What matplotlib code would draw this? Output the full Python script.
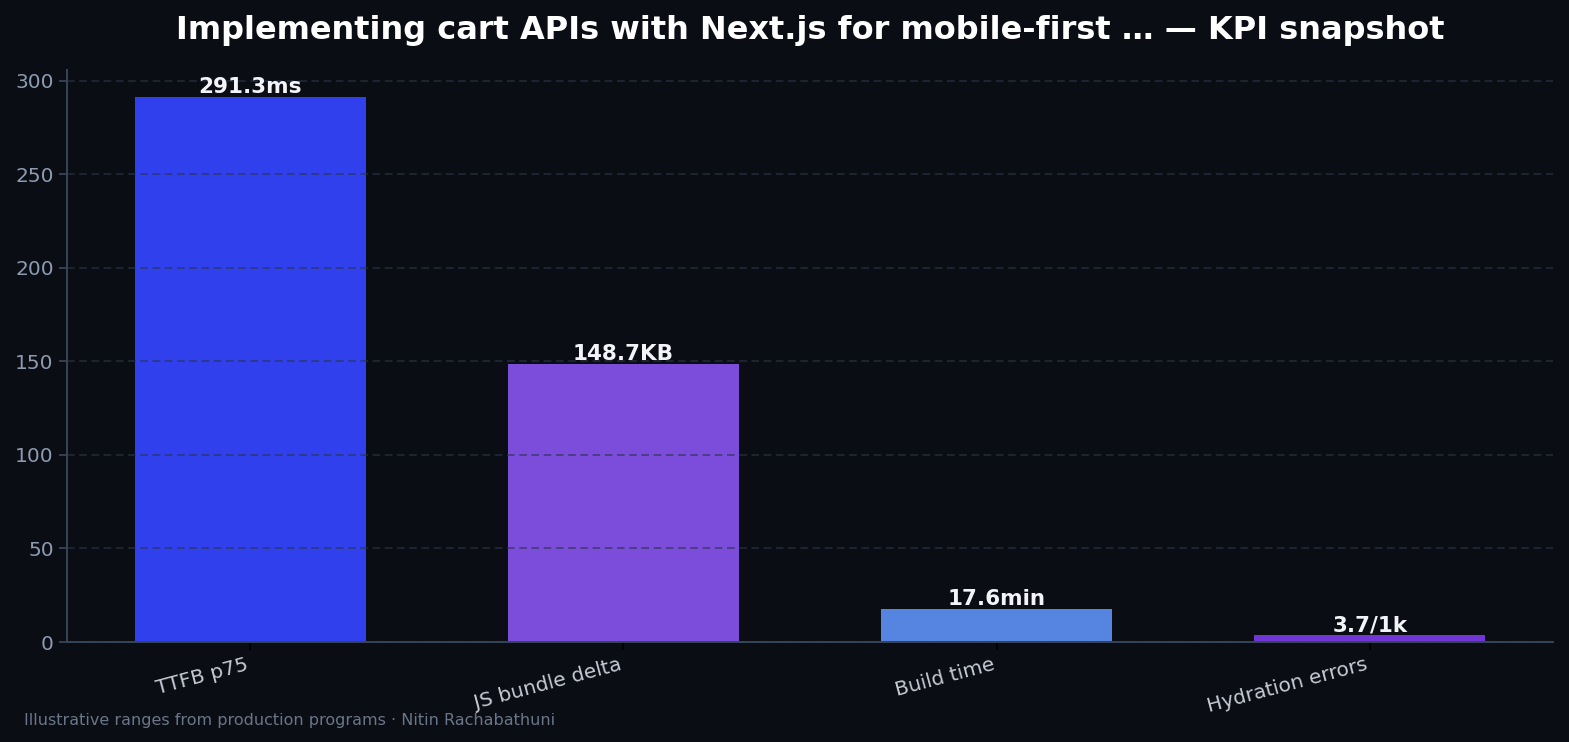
import matplotlib
matplotlib.use("Agg")
import matplotlib.pyplot as plt

categories = ["TTFB p75", "JS bundle delta", "Build time", "Hydration errors"]
values = [291.3, 148.7, 17.6, 3.7]
value_labels = ["291.3ms", "148.7KB", "17.6min", "3.7/1k"]
colors = ["#2f40ec", "#7c4ddb", "#5585e0", "#7036d6"]

bg = "#0a0d14"
fig = plt.figure(figsize=(15.69, 7.42), dpi=100, facecolor=bg)
ax = fig.add_axes([67/1569, 1-642/742, (1553-67)/1569, (642-70)/742])
ax.set_facecolor(bg)

x = range(len(categories))
bars = ax.bar(x, values, width=0.62, color=colors, zorder=2)
for b, lab in zip(bars, value_labels):
    ax.text(b.get_x() + b.get_width()/2, b.get_height(), lab, ha="center", va="bottom",
            color="#f2f4f8", fontsize=15.5, fontweight="bold", zorder=4)

ax.set_ylim(0, max(values) * 1.05)
ax.set_xticks(list(x))
ax.set_xticklabels(categories, rotation=15, ha="right", color="#c5cad4", fontsize=14.5)
ax.tick_params(axis="y", colors="#8d9ab0", labelsize=14.5, length=6, width=1.3)
ax.tick_params(axis="x", colors="#000000", labelcolor="#c5cad4", length=6, width=1.3)
ax.set_axisbelow(False)
ax.yaxis.grid(True, linestyle=(0, (5, 3)), color="#2a3448", alpha=0.75, linewidth=1.1, zorder=3)
ax.xaxis.grid(False)
for s in ["top", "right"]:
    ax.spines[s].set_visible(False)
for s in ["left", "bottom"]:
    ax.spines[s].set_color("#384458")
    ax.spines[s].set_linewidth(1.4)
    ax.spines[s].set_zorder(3.5)
ax.tick_params(axis="y", color="#384458")

ax.set_title("Implementing cart APIs with Next.js for mobile-first … — KPI snapshot",
             color="#ffffff", fontsize=23, fontweight="bold", pad=22)
fig.text(24/1569, 1-720/742, "Illustrative ranges from production programs · Nitin Rachabathuni",
         color="#6b7588", fontsize=11.5, va="center")

fig.savefig("out.png", dpi=100, facecolor=bg)
